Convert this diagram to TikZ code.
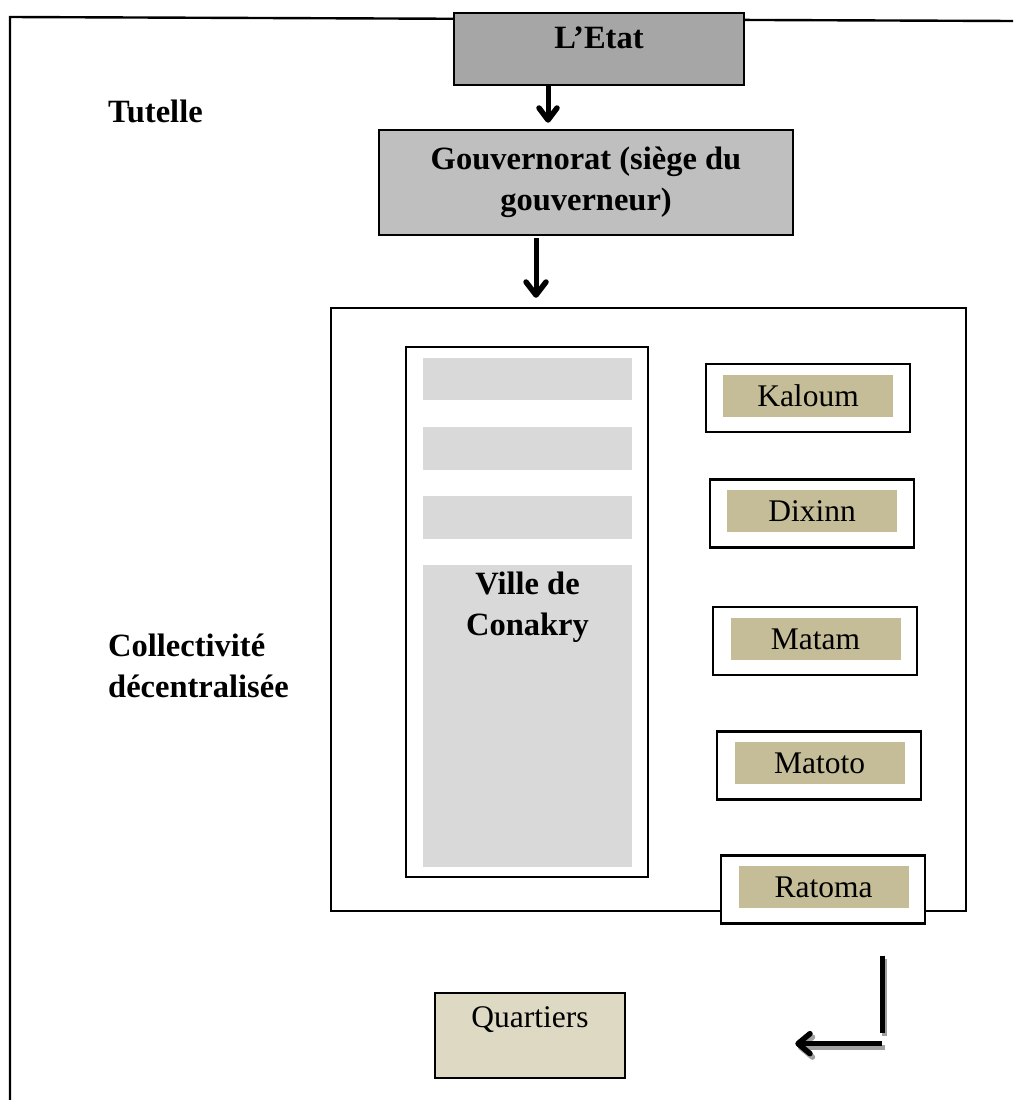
\documentclass[tikz,border=0pt]{standalone}
\usepackage{fontspec}
\setmainfont{Liberation Serif}
\usetikzlibrary{calc}
\definecolor{etatgray}{HTML}{A6A6A6}
\definecolor{gouvgray}{HTML}{BFBFBF}
\definecolor{bargray}{HTML}{D9D9D9}
\definecolor{commfill}{HTML}{C4BD97}
\definecolor{quartfill}{HTML}{DDD9C3}
\definecolor{shadowgray}{HTML}{A0A0A0}
\begin{document}
\begin{tikzpicture}[x=1pt,y=-1pt,
  boldtxt/.style={font=\fontsize{32.5}{41}\selectfont\bfseries},
  regtxt/.style={font=\fontsize{31.5}{38}\selectfont},
  box/.style={draw=black, line width=2.4pt, inner sep=0pt, outer sep=0pt},
  bar/.style={fill=bargray, inner sep=0pt, outer sep=0pt, minimum width=209pt},
  commframe/.style={draw=black, fill=white, line width=2.2pt, inner sep=0pt, minimum width=204pt, minimum height=68pt},
  comminner/.style={fill=commfill, inner sep=0pt, minimum width=170pt, minimum height=42pt, regtxt},
  shaft/.style={line width=5pt},
  head/.style={line width=5.5pt, line cap=round, line join=round}
]
\useasboundingbox (0,0) rectangle (1013,1100);
% outer frame
\coordinate (fr) at (1013,21);
\coordinate (fl) at (10,17);
\coordinate (fb) at (10,1100);
\draw[line width=2.4pt] (fr) -- (fl) -- (fb);

% labels
\node[boldtxt, anchor=west, inner sep=0pt] (tutelle) at (108,111) {Tutelle};
\node[boldtxt, anchor=west, align=left, inner sep=0pt] (collect) at (108,666) {Collectivité\\décentralisée};

% Etat
\node[box, line width=2.8pt, fill=etatgray, minimum width=290pt, minimum height=72pt,
  label={[boldtxt, yshift=11pt]center:L’Etat}] (letat) at (599,49) {};
% Gouvernorat
\node[box, fill=gouvgray, minimum width=414pt, minimum height=105pt, align=center, boldtxt] (gouv) at (586,182.5) {Gouvernorat (siège du\\gouverneur)};

% big box
\node[box, minimum width=635pt, minimum height=603pt] (big) at (648.5,609.5) {};
% Ville
\node[box, fill=white, minimum width=242pt, minimum height=530pt] (ville) at (527,612) {};
\node[bar, minimum height=42pt] (bar1) at (527.5,379) {};
\node[bar, minimum height=43pt] (bar2) at (527.5,448.5) {};
\node[bar, minimum height=43pt] (bar3) at (527.5,517.5) {};
\node[bar, minimum height=302pt, label={[boldtxt, align=center, yshift=109pt]center:Ville de\\Conakry}] (bar4) at (527.5,716) {};

% communes
\node[commframe] (kaloumf) at (808,398) {};
\node[comminner] (kaloum) at (808,396) {Kaloum};
\node[commframe] (dixinnf) at (812,513.5) {};
\node[comminner] (dixinn) at (812,511) {Dixinn};
\node[commframe] (matamf) at (815,641) {};
\node[comminner] (matam) at (815.5,639) {Matam};
\node[commframe] (matotof) at (819,765.5) {};
\node[comminner] (matoto) at (819.5,763) {Matoto};
\node[commframe] (ratomaf) at (823,889.5) {};
\node[comminner] (ratoma) at (823.5,887) {Ratoma};

% Quartiers
\node[box, fill=quartfill, minimum width=190pt, minimum height=85pt,
  label={[regtxt, yshift=15.5pt]center:Quartiers}] (quart) at (530,1035.5) {};

% arrow Etat -> Gouvernorat
\coordinate (t1) at ([xshift=-38pt,yshift=10pt]gouv.north);
\draw[shaft] ([xshift=-51pt]letat.south) -- ($(t1)+(0,-3)$);
\draw[head] ($(t1)+(-9,-12)$) -- (t1) -- ($(t1)+(9,-12)$);
% arrow Gouvernorat -> collectivité
\coordinate (t2) at ([xshift=-112.5pt,yshift=13pt]big.north);
\draw[shaft] ([xshift=-50pt,yshift=-3pt]gouv.south) -- ($(t2)+(0,-3)$);
\draw[head] ($(t2)+(-10,-13)$) -- (t2) -- ($(t2)+(10,-13)$);

% elbow arrow with shadow
\coordinate (e1) at ($(ratomaf.south)+(59,31)$);
\coordinate (e2) at ($(e1)+(0,77)$);
\coordinate (e3) at ($(e1)+(0,88)$);
\coordinate (e4) at ($(quart.east |- e3)+(173,0)$);
\begin{scope}[shadowgray]
  \draw[shaft] ([shift={(2.5,3.5)}]e1) -- ([shift={(2.5,3.5)}]e2);
  \draw[shaft] ([shift={(2.5,3.5)}]e3) -- ([shift={(5.5,3.5)}]e4);
  \draw[head] ([shift={(14.5,-6.5)}]e4) -- ([shift={(2.5,3.5)}]e4) -- ([shift={(14.5,13.5)}]e4);
\end{scope}
\draw[shaft] (e1) -- (e2);
\draw[shaft] (e3) -- ($(e4)+(3,0)$);
\draw[head] ($(e4)+(12,-10)$) -- (e4) -- ($(e4)+(12,10)$);
\end{tikzpicture}
\end{document}
